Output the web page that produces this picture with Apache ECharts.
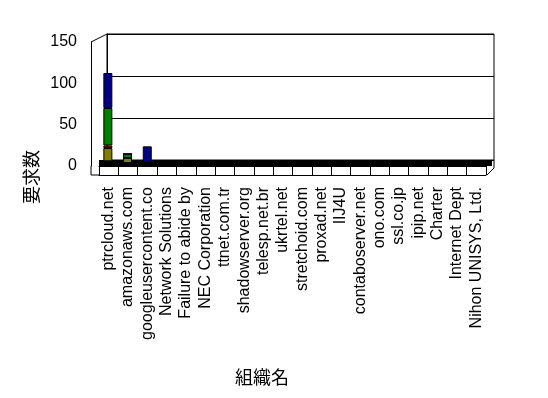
<!DOCTYPE html>
<html>
    <head>
        <meta charset="utf-8">
        <script src="https://cdn.jsdelivr.net/npm/echarts/dist/echarts.min.js"></script>
        <style>
            html, body { margin: 0; padding: 0; background: #fff; }
            #main { width: 548px; height: 398px; }
        </style>
    </head>
    <body>
        <div id="main"></div>
        <script>
            var categories = ['ptrcloud.net', 'amazonaws.com', 'googleusercontent.co', 'Network Solutions',
                'Failure to abide by', 'NEC Corporation', 'ttnet.com.tr', 'shadowserver.org', 'telesp.net.br',
                'ukrtel.net', 'stretchoid.com', 'proxad.net', 'IIJ4U', 'contaboserver.net', 'ono.com',
                'ssl.co.jp', 'ipip.net', 'Charter', 'Internet Dept', 'Nihon UNISYS, Ltd.'];
            // stacked from the floor up
            var navyLow = [2, 0, 0, 0, 0, 0, 0, 0, 0, 0, 0, 0, 0, 0, 0, 0, 0, 0, 0, 0];
            var olive   = [16, 6, 0, 0, 0, 0, 0, 0, 0, 0, 0, 0, 0, 0, 0, 0, 0, 0, 0, 0];
            var red     = [3, 0, 0, 0, 0, 0, 0, 0, 0, 0, 0, 0, 0, 0, 0, 0, 0, 0, 0, 0];
            var green   = [45, 5, 0, 1, 0, 0, 1, 1, 0, 0, 0, 0, 0, 0, 0, 0, 0, 0, 0, 0];
            var navyTop = [42, 0, 20, 0, 0, 0, 0, 0, 0, 0, 0, 0, 0, 0, 0, 0, 0, 0, 0, 0];
            var yTicks = [0, 50, 100, 150];

            var chart = echarts.init(document.getElementById('main'));
            var font = 'Liberation Sans, Arial, sans-serif';
            var cjk = 'Noto Sans CJK JP, sans-serif';
            var yMin = yTicks[0], yMax = yTicks[yTicks.length - 1], yStep = yTicks[1] - yTicks[0];

            function bar(name, data, color) {
                return {
                    name: name,
                    type: 'bar',
                    stack: 'all',
                    xAxisIndex: 4,
                    yAxisIndex: 3,
                    barWidth: 9,
                    itemStyle: { color: color, borderColor: '#000', borderWidth: 1 },
                    data: data
                };
            }

            // thin edges of the 3d box
            function edge(x1, y1, x2, y2) {
                return { type: 'line', silent: true, z: 10, shape: { x1: x1, y1: y1, x2: x2, y2: y2 }, style: { stroke: '#000', lineWidth: 1 } };
            }

            var option = {
                animation: false,
                backgroundColor: '#fff',
                grid: [
                    // back wall
                    { left: 107, right: 54, top: 34, bottom: 238, show: true, backgroundColor: '#fff', borderColor: '#000', borderWidth: 1 },
                    // floor
                    { left: 99, right: 56, top: 160, bottom: 232, show: true, backgroundColor: '#000', borderWidth: 0 },
                    // front axes
                    { left: 99, right: 62, top: 42, bottom: 232 },
                    // bars
                    { left: 98, right: 56, top: 38, bottom: 235 }
                ],
                xAxis: [
                    { type: 'category', gridIndex: 0, data: categories, show: false },
                    { type: 'category', gridIndex: 1, data: categories, show: false },
                    {
                        type: 'category', gridIndex: 2, data: categories,
                        axisLine: { lineStyle: { color: '#000', width: 1 } },
                        axisTick: { show: true, length: 9, interval: 0, lineStyle: { color: '#000' } },
                        axisLabel: { interval: 0, rotate: 90, margin: 21, color: '#000', fontSize: 16, fontFamily: font }
                    },
                    {
                        type: 'category', gridIndex: 2, data: categories, position: 'bottom', offset: 9,
                        axisLine: { lineStyle: { color: '#000', width: 1 } },
                        axisTick: { show: false }, axisLabel: { show: false }
                    },
                    { type: 'category', gridIndex: 3, data: categories, show: false }
                ],
                yAxis: [
                    {
                        type: 'value', gridIndex: 0, min: yMin, max: yMax, interval: yStep,
                        axisLine: { show: true, lineStyle: { color: '#000' } },
                        axisTick: { show: false }, axisLabel: { show: false },
                        splitLine: { show: true, lineStyle: { color: '#000', width: 1 } }
                    },
                    { type: 'value', gridIndex: 1, show: false },
                    {
                        type: 'value', gridIndex: 2, min: yMin, max: yMax, interval: yStep, offset: 8,
                        axisLine: { show: true, lineStyle: { color: '#000' } },
                        axisTick: { show: false },
                        splitLine: { show: false },
                        axisLabel: { margin: 14, color: '#000', fontSize: 16, fontFamily: font }
                    },
                    { type: 'value', gridIndex: 3, min: yMin, max: yMax, show: false }
                ],
                graphic: [
                    edge(91, 42, 107, 34),
                    edge(91, 166, 91, 175),
                    edge(91, 175, 99, 175),
                    edge(487, 175, 494, 168),
                    edge(494, 160, 494, 168),
                    {
                        type: 'text', x: 31, y: 177, rotation: Math.PI / 2,
                        style: { text: '要求数', fill: '#000', font: '18px ' + cjk, align: 'center', verticalAlign: 'middle' }
                    },
                    {
                        type: 'text', x: 262, y: 377,
                        style: { text: '組織名', fill: '#000', font: '18px ' + cjk, align: 'center', verticalAlign: 'middle' }
                    }
                ],
                series: [
                    bar('s1', navyLow, '#000080'),
                    bar('s2', olive, '#808000'),
                    bar('s3', red, '#e01010'),
                    bar('s4', green, '#008000'),
                    bar('s5', navyTop, '#000080')
                ]
            };

            chart.setOption(option);
        </script>
    </body>
</html>
